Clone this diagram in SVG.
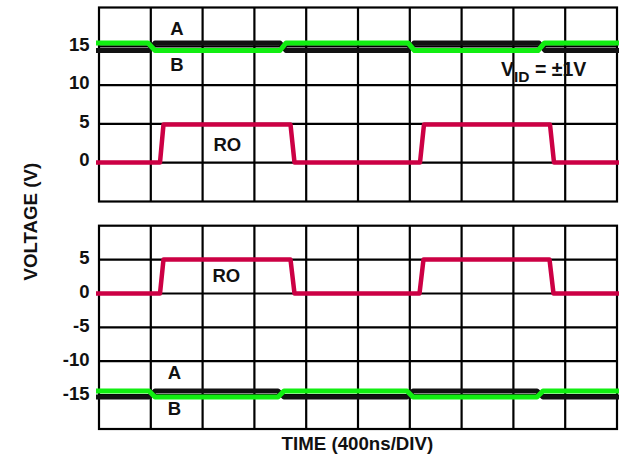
<svg xmlns="http://www.w3.org/2000/svg" width="621" height="457" viewBox="0 0 621 457">
<style>
.grid{fill:none;stroke:#000;stroke-width:2.2}
.t{font-family:"Liberation Sans",Arial,sans-serif;font-weight:bold;font-size:18.5px;fill:#111}
.tick{text-anchor:end}
.mid{text-anchor:middle}
.ro{fill:none;stroke:#cc0044;stroke-width:4.5;stroke-linejoin:round;stroke-linecap:butt}
.ga{fill:none;stroke:#11ee11;stroke-width:5;stroke-linejoin:round}
.bb{fill:none;stroke:#111;stroke-width:5;stroke-linejoin:round}
</style>
<rect width="621" height="457" fill="#fff"/>
<g id="top-grid">
<rect class="grid" x="99" y="7.5" width="518" height="194"/>
<path class="grid" d="M150.8 7.5V201.5M202.6 7.5V201.5M254.4 7.5V201.5M306.2 7.5V201.5M358 7.5V201.5M409.8 7.5V201.5M461.6 7.5V201.5M513.4 7.5V201.5M565.2 7.5V201.5M99 46.3H617M99 85.1H617M99 123.9H617M99 162.7H617"/>
</g>
<g id="bottom-grid">
<rect class="grid" x="99" y="225.7" width="518" height="203.3"/>
<path class="grid" d="M150.8 225.7V429M202.6 225.7V429M254.4 225.7V429M306.2 225.7V429M358 225.7V429M409.8 225.7V429M461.6 225.7V429M513.4 225.7V429M565.2 225.7V429M99 259.6H617M99 293.5H617M99 327.4H617M99 361.2H617M99 395.1H617"/>
</g>
<g id="traces">
<path class="bb" d="M96 50.5H149L155 43H280L286 50.5H408L414 43H539L545 50.5H619"/>
<path class="ga" d="M96 43H148L155 50.5H280L286 43H408L414.5 50.5H538L544.5 43H619"/>
<path class="ro" d="M96 162.5H160L163.5 124.5H290.5L294.5 162.5H420L424 124.5H550L554 162.5H619"/>
<path class="ro" d="M96 293.5H160L163.5 259.5H290.5L294.5 293.5H419.5L423.5 259.5H549.5L553.5 293.5H619"/>
<path class="bb" d="M96 397H149L155 391H278L284 397H407L413 391H537L543 397H619"/>
<path class="ga" d="M96 391H149L155 397H278L284 391H407L413 397H537L543 391H619"/>
</g>
<g id="top-ticks" class="t tick">
<text x="89.5" y="50.5">15</text>
<text x="89.5" y="89">10</text>
<text x="89.5" y="127.5">5</text>
<text x="89.5" y="166">0</text>
</g>
<g id="bottom-ticks" class="t tick">
<text x="89.5" y="264">5</text>
<text x="89.5" y="297.5">0</text>
<text x="89.5" y="331.5">-5</text>
<text x="89.5" y="365.5">-10</text>
<text x="89.5" y="399.5">-15</text>
</g>
<g id="top-labels" class="t mid">
<text x="177" y="35">A</text>
<text x="177" y="70.7">B</text>
<text x="227.3" y="150.7">RO</text>
</g>
<g id="vid-label" class="t">
<text x="501" y="75.7" font-size="19.5">V<tspan font-size="15.5" dy="6">ID</tspan><tspan dy="-6"> = ±1V</tspan></text>
</g>
<g id="bottom-labels" class="t mid">
<text x="226.3" y="282">RO</text>
<text x="174.5" y="379">A</text>
<text x="174.5" y="415.3">B</text>
</g>
<g id="axis-titles" class="t mid">
<text x="357.4" y="450" font-size="18.7">TIME (400ns/DIV)</text>
<text transform="translate(37 221.7) rotate(-90)" font-size="18.7">VOLTAGE (V)</text>
</g>
</svg>
